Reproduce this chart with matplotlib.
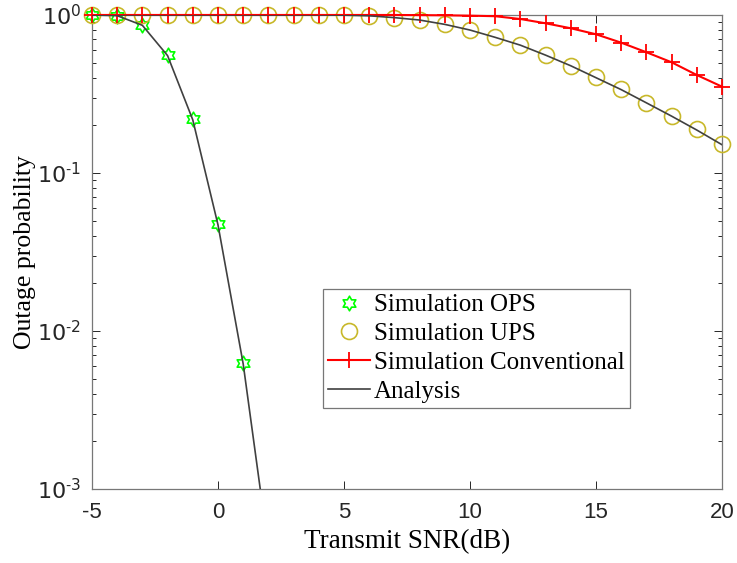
import numpy as np
import matplotlib
matplotlib.use('Agg')
import matplotlib.pyplot as plt
from matplotlib.path import Path

# data
snr = list(range(-5, 21))

ops_snr = [-5, -4, -3, -2, -1, 0, 1]
ops_sim = [1.0, 0.99, 0.862, 0.556, 0.219, 0.0474, 0.0063]

ops_ana_snr = [-5, -4, -3, -2, -1, 0, 1, 2]
ops_ana = [1.0, 0.99, 0.86, 0.553, 0.217, 0.0470, 0.0062, 0.00042]

ups_sim = [1.0, 1.0, 1.0, 1.0, 1.0, 1.0, 1.0, 1.0, 1.0, 1.0, 0.998, 0.99, 0.96,
           0.93, 0.873, 0.804, 0.722, 0.646, 0.558, 0.478, 0.403, 0.339, 0.279,
           0.231, 0.189, 0.153]
ups_ana = [1.0, 1.0, 1.0, 1.0, 1.0, 1.0, 1.0, 1.0, 1.0, 1.0, 0.997, 0.988, 0.962,
           0.929, 0.872, 0.803, 0.722, 0.644, 0.557, 0.477, 0.401, 0.337, 0.278,
           0.229, 0.187, 0.151]
conv_sim = [1.0, 1.0, 1.0, 1.0, 1.0, 1.0, 1.0, 1.0, 1.0, 1.0, 1.0, 1.0, 1.0,
            0.998, 0.995, 0.99, 0.982, 0.943, 0.886, 0.824, 0.755, 0.668, 0.581,
            0.502, 0.417, 0.352]

yticks = [1e-3, 1e-2, 1e-1, 1e0]
ytick_labels = [r'$\mathregular{10^{\text{-}3}}$', r'$\mathregular{10^{\text{-}2}}$',
                r'$\mathregular{10^{\text{-}1}}$', r'$\mathregular{10^{0}}$']
xticks = [-5, 0, 5, 10, 15, 20]

plt.rcParams['mathtext.fontset'] = 'custom'
plt.rcParams['mathtext.rm'] = 'Liberation Sans'
plt.rcParams['axes.unicode_minus'] = False

# hexagram marker (star of David), like MATLAB 'h'
ang_out = np.deg2rad(90 + np.arange(6) * 60)
ang_in = ang_out + np.deg2rad(30)
r_in = 1 / np.sqrt(3)
verts = []
for a, b in zip(ang_out, ang_in):
    verts.append((np.cos(a), np.sin(a)))
    verts.append((r_in * np.cos(b), r_in * np.sin(b)))
verts.append(verts[0])
hexagram = Path(verts, closed=True)

fig = plt.figure(figsize=(7.37, 5.63), dpi=100)
ax = fig.add_axes([0.1248, 0.1314, 0.9796 - 0.1248, 0.9734 - 0.1314])

ax.plot(ops_snr, ops_sim, linestyle='none', marker=hexagram, markersize=10.5,
        markerfacecolor='none', markeredgecolor='#00ff00', markeredgewidth=1.2,
        clip_on=False, label='Simulation OPS', zorder=3)
ax.plot(snr, ups_sim, linestyle='none', marker='o', markersize=11.5,
        markerfacecolor='none', markeredgecolor='#c8b82a', markeredgewidth=1.2,
        clip_on=False, label='Simulation UPS', zorder=3)
ax.plot(snr, conv_sim, color='#ff0000', linewidth=1.5, marker='+', markersize=11,
        markeredgewidth=1.3, clip_on=False, label='Simulation Conventional', zorder=3)
ax.plot(ops_ana_snr, ops_ana, color='#404040', linewidth=1.2, label='Analysis', zorder=4)
ax.plot(snr, ups_ana, color='#404040', linewidth=1.2, zorder=4)

ax.set_yscale('log')
ax.set_xlim(-5, 20)
ax.set_ylim(1e-3, 1)
ax.set_xticks(xticks)
ax.set_xticklabels([str(t) for t in xticks], fontfamily='Liberation Sans', fontsize=16)
ax.set_yticks(yticks)
ax.set_yticklabels(ytick_labels, fontsize=16)
ax.tick_params(which='both', direction='in', top=True, right=True,
               colors='#262626', width=0.7)
ax.tick_params(which='major', length=6)
ax.tick_params(axis='x', which='major', pad=9)
ax.tick_params(axis='y', which='major', pad=8)
ax.tick_params(which='minor', length=3)
ax.tick_params(axis='x', which='minor', bottom=False, top=False)
for s in ax.spines.values():
    s.set_color('#777777')
    s.set_linewidth(0.9)

ax.set_xlabel('Transmit SNR(dB)', fontfamily='Liberation Serif', fontsize=19.5, labelpad=5)
ax.set_ylabel('Outage probability', fontfamily='Liberation Serif', fontsize=18.5, labelpad=0.5)

leg = ax.legend(loc='lower left', bbox_to_anchor=(0.366, 0.1715), borderaxespad=0,
                prop={'family': 'Liberation Serif', 'size': 18}, fancybox=False,
                edgecolor='#777777', framealpha=1, handlelength=1.7,
                handletextpad=0.15, labelspacing=0.25, borderpad=0.2)
leg.get_frame().set_linewidth(0.9)

fig.savefig('out.png', dpi=100)
